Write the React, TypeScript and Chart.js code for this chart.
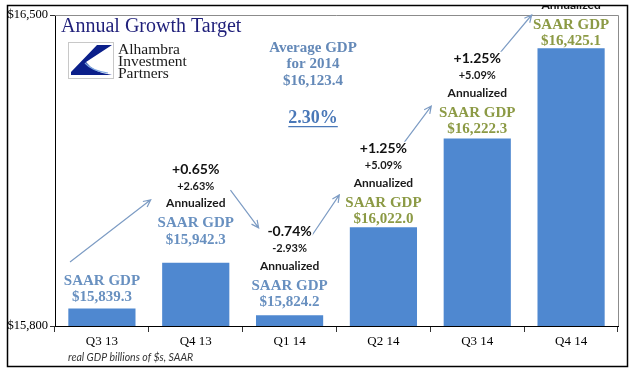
import React, { useEffect, useRef } from 'react';
import { Chart, registerables } from 'chart.js';

Chart.register(...registerables);

// ---------- data ----------
const categories = ['Q3 13', 'Q4 13', 'Q1 14', 'Q2 14', 'Q3 14', 'Q4 14'];
const saarGdp = [15839.3, 15942.3, 15824.2, 16022.0, 16222.3, 16425.1];
const qoqChange = ['', '+0.65%', '-0.74%', '+1.25%', '+1.25%', '+1.25%'];
const annualizedChange = ['', '+2.63%', '-2.93%', '+5.09%', '+5.09%', '+5.09%'];
const yTickValues = [15800, 16500];
const avgGdp2014 = 16123.4;
const annualGrowth = '2.30%';
const chartTitle = 'Annual Growth Target';
const logoLines = ['Alhambra', 'Investment', 'Partners'];
const footnote = 'real GDP billions of $s, SAAR';

// arrows between quarters (category index, GDP value)
const arrowFromIdx = [-0.34, 1.37, 2.22, 3.2, 4.24];
const arrowFromVal = [15944, 16106, 15998, 16207, 16414];
const arrowToIdx = [0.52, 1.67, 2.53, 3.51, 4.58];
const arrowToVal = [16084, 16021, 16095, 16295, 16500];

// ---------- layout / style ----------
const labelGap = [11, 23, 13, 8, 9, 7];
const blueText = '#6890c0';
const greenText = '#8c9a45';
const labelColors = [blueText, blueText, blueText, greenText, greenText, greenText];
const barColor = '#4f88d0';
const serif = '"Liberation Serif", "Times New Roman", serif';
const sans = 'Lato, "Open Sans", sans-serif';
const avgNoteIdx = 2.25;
const avgNoteVal = 16426;
const growthNoteVal = 16268;

const fmt = (v: number) =>
  '$' + v.toLocaleString('en-US', { minimumFractionDigits: 1, maximumFractionDigits: 1 });

function drawText(
  ctx: CanvasRenderingContext2D,
  text: string,
  x: number,
  y: number,
  font: string,
  color: string,
  bg = false,
  size = 14
) {
  ctx.font = font;
  const w = ctx.measureText(text).width;
  if (bg) {
    ctx.fillStyle = '#fff';
    ctx.fillRect(x - w / 2 - 1, y - size * 0.45, w + 2, size * 0.9);
  }
  ctx.fillStyle = color;
  ctx.textAlign = 'center';
  ctx.textBaseline = 'middle';
  ctx.fillText(text, x, y);
}

function drawArrow(ctx: CanvasRenderingContext2D, x1: number, y1: number, x2: number, y2: number) {
  const ang = Math.atan2(y2 - y1, x2 - x1);
  const hl = 8;
  ctx.beginPath();
  ctx.moveTo(x1, y1);
  ctx.lineTo(x2, y2);
  ctx.moveTo(x2 - hl * Math.cos(ang - 0.45), y2 - hl * Math.sin(ang - 0.45));
  ctx.lineTo(x2, y2);
  ctx.lineTo(x2 - hl * Math.cos(ang + 0.45), y2 - hl * Math.sin(ang + 0.45));
  ctx.stroke();
}

const decorPlugin = {
  id: 'decor',
  beforeDatasetsDraw(chart: any) {
    const { ctx, chartArea: a } = chart;
    ctx.save();
    ctx.strokeStyle = '#8c8c8c';
    ctx.lineWidth = 1;
    ctx.beginPath();
    ctx.moveTo(a.left, a.top + 0.5);
    ctx.lineTo(a.right + 0.5, a.top + 0.5);
    ctx.lineTo(a.right + 0.5, a.bottom);
    ctx.stroke();
    ctx.restore();
  },
  afterDraw(chart: any) {
    const { ctx, chartArea: a, scales } = chart;
    const xs = scales.x;
    const ys = scales.y;
    const W = chart.width;
    const H = chart.height;
    ctx.save();
    ctx.beginPath();
    ctx.rect(7, 5, W - 19, H - 12);
    ctx.clip();

    // arrows
    ctx.strokeStyle = '#7d9cc4';
    ctx.lineWidth = 1.2;
    for (let i = 0; i < arrowFromIdx.length; i++) {
      drawArrow(
        ctx,
        xs.getPixelForValue(arrowFromIdx[i]),
        ys.getPixelForValue(arrowFromVal[i]),
        xs.getPixelForValue(arrowToIdx[i]),
        ys.getPixelForValue(arrowToVal[i])
      );
    }

    // per-bar labels
    const lh = 16.5;
    for (let i = 0; i < categories.length; i++) {
      const cx = xs.getPixelForValue(i);
      const top = ys.getPixelForValue(saarGdp[i]);
      const yVal = top - labelGap[i];
      const ySaar = yVal - lh;
      const f = `bold 15px ${serif}`;
      drawText(ctx, fmt(saarGdp[i]), cx, yVal, f, labelColors[i], false, 15);
      drawText(ctx, 'SAAR GDP', cx, ySaar, f, labelColors[i], true, 15);
      if (qoqChange[i]) {
        const yAnn = ySaar - 20;
        drawText(ctx, 'Annualized', cx, yAnn, `bold 12px ${sans}`, '#1a1a1a', true, 14);
        drawText(ctx, annualizedChange[i], cx, yAnn - 17, `bold 11px ${sans}`, '#1a1a1a', true, 13);
        drawText(ctx, qoqChange[i], cx, yAnn - 34, `bold 14px ${sans}`, '#111', true, 16);
      }
    }

    // average note
    const ax = xs.getPixelForValue(avgNoteIdx);
    const ay = ys.getPixelForValue(avgNoteVal);
    const af = `bold 15px ${serif}`;
    drawText(ctx, 'Average GDP', ax, ay, af, '#6489b8');
    drawText(ctx, 'for 2014', ax, ay + 16.5, af, '#6489b8');
    drawText(ctx, fmt(avgGdp2014), ax, ay + 33, af, '#6489b8');
    const gy = ys.getPixelForValue(growthNoteVal);
    ctx.font = `bold 18px ${serif}`;
    const gw = ctx.measureText(annualGrowth).width;
    drawText(ctx, annualGrowth, ax, gy, `bold 18px ${serif}`, '#4a78b8');
    ctx.strokeStyle = '#4a78b8';
    ctx.lineWidth = 1.2;
    ctx.beginPath();
    ctx.moveTo(ax - gw / 2, gy + 8.5);
    ctx.lineTo(ax + gw / 2, gy + 8.5);
    ctx.stroke();

    // title
    ctx.font = `20px ${serif}`;
    ctx.fillStyle = '#1f1f7a';
    ctx.textAlign = 'left';
    ctx.textBaseline = 'middle';
    ctx.fillText(chartTitle, a.left + 6, a.top + 12);

    // logo
    const lx = a.left + 13;
    const ly = a.top + 27;
    ctx.fillStyle = '#fff';
    ctx.fillRect(lx, ly, 45, 36);
    ctx.strokeStyle = '#c8c8c8';
    ctx.lineWidth = 1;
    ctx.strokeRect(lx + 0.5, ly + 0.5, 45, 36);
    ctx.fillStyle = '#0b1f8a';
    ctx.beginPath();
    ctx.moveTo(lx + 29, ly + 3);
    ctx.lineTo(lx + 44, ly + 3);
    ctx.lineTo(lx + 18, ly + 20);
    ctx.quadraticCurveTo(lx + 26, ly + 31, lx + 44, ly + 33);
    ctx.lineTo(lx + 3, ly + 33);
    ctx.lineTo(lx + 3, ly + 30);
    ctx.closePath();
    ctx.fill();
    ctx.strokeStyle = '#7fa8e0';
    ctx.lineWidth = 1.2;
    ctx.beginPath();
    ctx.moveTo(lx + 17, ly + 21);
    ctx.quadraticCurveTo(lx + 24, ly + 29, lx + 40, ly + 31);
    ctx.stroke();
    ctx.font = `15.5px ${serif}`;
    ctx.fillStyle = '#1a1a1a';
    ctx.textAlign = 'left';
    logoLines.forEach((t, k) => ctx.fillText(t, a.left + 63, a.top + 35 + k * 12));

    // footnote
    ctx.font = `italic 10.5px ${sans}`;
    ctx.fillStyle = '#333';
    ctx.fillText(footnote, a.left + 13, H - 16);
    ctx.restore();

    // outer frame
    ctx.save();
    ctx.strokeStyle = '#000';
    ctx.lineWidth = 1.5;
    ctx.strokeRect(7.5, 5.5, W - 20, H - 13);
    ctx.restore();
  },
};

export default function App() {
  const ref = useRef<HTMLCanvasElement>(null);
  useEffect(() => {
    document.body.style.margin = '0';
    const chart = new Chart(ref.current as HTMLCanvasElement, {
      type: 'bar',
      data: {
        labels: categories,
        datasets: [
          {
            data: saarGdp,
            backgroundColor: barColor,
            barPercentage: 0.716,
            categoryPercentage: 1,
          },
        ],
      },
      options: {
        responsive: false,
        animation: false,
        devicePixelRatio: 1,
        layout: { padding: { left: 0, top: 15, right: 22, bottom: 0 } },
        plugins: { legend: { display: false }, tooltip: { enabled: false } },
        scales: {
          x: {
            afterFit: (s: any) => {
              s.height = 48;
            },
            grid: {
              drawOnChartArea: false,
              offset: true,
              tickLength: 6,
              color: '#333',
            },
            border: { color: '#000', width: 1 },
            ticks: { font: { family: serif, size: 13 }, color: '#000', padding: 2 },
          },
          y: {
            min: 15800,
            max: 16500,
            afterFit: (s: any) => {
              s.width = 55;
            },
            afterBuildTicks: (s: any) => {
              s.ticks = yTickValues.map((v) => ({ value: v }));
            },
            grid: { drawOnChartArea: false, tickLength: 5, color: '#333' },
            border: { color: '#000', width: 1 },
            ticks: {
              font: { family: serif, size: 12.5 },
              color: '#000',
              padding: 2,
              callback: (v: any) => '$' + Number(v).toLocaleString('en-US'),
            },
          },
        },
      },
      plugins: [decorPlugin],
    });
    return () => chart.destroy();
  }, []);
  return (
    <div style={{ width: 640, height: 374 }}>
      <canvas ref={ref} width={640} height={374} style={{ display: 'block' }} />
    </div>
  );
}
